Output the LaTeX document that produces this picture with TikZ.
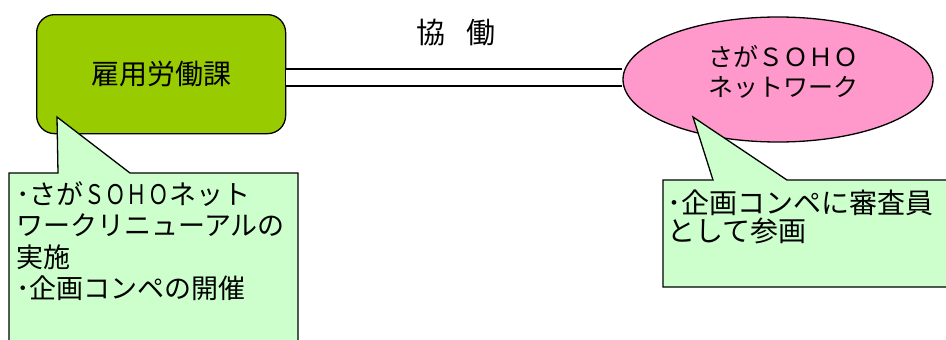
\documentclass[tikz,border=0pt]{standalone}
\usepackage{fontspec}
\usepackage{graphicx}
\newfontfamily\jp{Noto Sans CJK JP}
\usetikzlibrary{shapes.geometric}
\definecolor{boxgreen}{HTML}{99CC00}
\definecolor{callgreen}{HTML}{CCFFCC}
\definecolor{ellpink}{HTML}{FF99CC}
\newcommand{\narrowch}[1]{\makebox[0.79em]{\scalebox{0.76}[1]{#1}}}
\tikzset{
  outline/.style={draw=black, line width=1.3pt},
  jptext/.style={font=\jp, text=black, inner sep=0pt},
}
\begin{document}
\begin{tikzpicture}[x=1pt,y=-1pt]
\useasboundingbox (0,0) rectangle (946,340);
\clip (0,0) rectangle (946,340);
% main nodes
\node[outline, fill=boxgreen, rounded corners=18pt, minimum width=249pt, minimum height=119pt, anchor=north west,
      jptext, font=\jp\fontsize{28}{32}\selectfont] (koyo) at (36,14) {雇用労働課};
\node[outline, fill=ellpink, ellipse, minimum width=310pt, minimum height=125pt, inner sep=0pt] (soho) at (778,79.5) {};
\node[jptext, align=center, font=\jp\fontsize{25}{30}\selectfont] (sohotext) at (783,72) {さがＳＯＨＯ\\ネットワーク};
% connector (double line)
\coordinate (mid) at (0,77.5);
\draw[line width=1.3pt, double=white, double distance=15.5pt] (koyo.east |- mid) -- (soho.west |- mid);
\node[jptext, font=\jp\fontsize{29}{32}\selectfont] (kyodo) at (456,33) {協\hspace{0.75em}働};
% left callout
\coordinate (lp) at (57,117);
\draw[outline, fill=callgreen] (9,173) -- (58,173) -- (lp) -- (130,173) -- (298,173) -- (298,360) -- (9,360) -- cycle;
\node[jptext, align=left, anchor=north west, font=\jp\fontsize{27}{31.5}\selectfont] (ltext) at (16,181)
  {･さが\narrowch{Ｓ}\narrowch{Ｏ}\narrowch{Ｈ}\narrowch{Ｏ}ネット\\ワークリニューアルの\\実施\\･企画コンペの開催};
% right callout
\coordinate (rp) at (693,117);
\draw[outline, fill=callgreen] (663,180) -- (713,180) -- (rp) -- (787,180) -- (960,180) -- (960,287) -- (663,287) -- cycle;
\node[jptext, align=left, anchor=north west, font=\jp\fontsize{28}{28}\selectfont] (rtext) at (667,190)
  {･企画コンペに審査員\\として参画};
\end{tikzpicture}
\end{document}
